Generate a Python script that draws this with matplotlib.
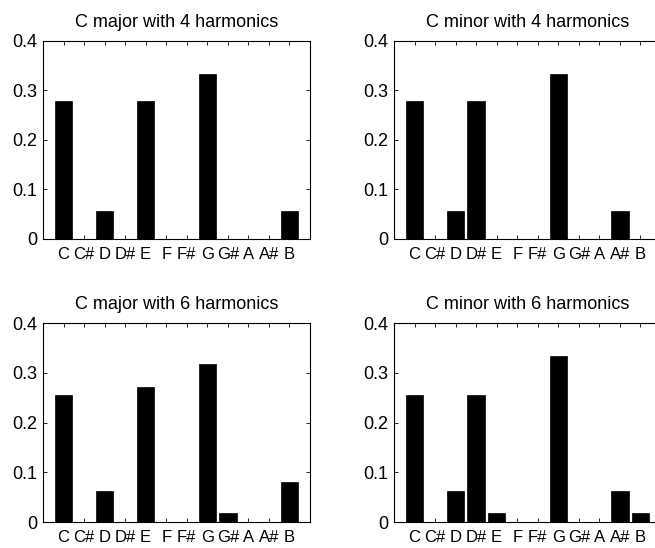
import matplotlib
matplotlib.use('Agg')
import matplotlib.pyplot as plt

notes = ['C', 'C#', 'D', 'D#', 'E', 'F', 'F#', 'G', 'G#', 'A', 'A#', 'B']

major4 = [0.278, 0, 0.056, 0, 0.278, 0, 0, 0.333, 0, 0, 0, 0.056]
minor4 = [0.278, 0, 0.056, 0.278, 0, 0, 0, 0.333, 0, 0, 0.056, 0]
major6 = [0.255, 0, 0.062, 0, 0.272, 0, 0, 0.317, 0.019, 0, 0, 0.080]
minor6 = [0.255, 0, 0.062, 0.255, 0.019, 0, 0, 0.334, 0, 0, 0.062, 0.019]

titles = ['C major with 4 harmonics', 'C minor with 4 harmonics',
          'C major with 6 harmonics', 'C minor with 6 harmonics']
series = [major4, minor4, major6, minor6]

plt.rcParams['font.family'] = ['Liberation Sans', 'DejaVu Sans']

fig = plt.figure(figsize=(6.55, 5.48), dpi=100)
positions = [
    [0.0656, 0.5639, 0.4076, 0.3613],
    [0.6015, 0.5639, 0.4076, 0.3613],
    [0.0656, 0.0474, 0.4076, 0.3631],
    [0.6015, 0.0474, 0.4076, 0.3631],
]

x = list(range(1, 13))
for pos, vals, title in zip(positions, series, titles):
    ax = fig.add_axes(pos)
    ax.bar(x, vals, width=0.85, color='black', edgecolor='black', linewidth=0.5)
    ax.set_xlim(0, 13)
    ax.set_ylim(0, 0.4)
    ax.set_xticks(x)
    ax.set_xticklabels(notes)
    ax.set_yticks([0, 0.1, 0.2, 0.3, 0.4])
    ax.set_yticklabels(['0', '0.1', '0.2', '0.3', '0.4'])
    ax.tick_params(direction='in', top=True, right=True, labelsize=13,
                   length=3, width=0.6, pad=4)
    ax.tick_params(axis='x', labelsize=12, pad=6)
    for sp in ax.spines.values():
        sp.set_linewidth(0.8)
    ax.set_title(title, fontsize=13, pad=10)

fig.savefig('out.png', dpi=100)
